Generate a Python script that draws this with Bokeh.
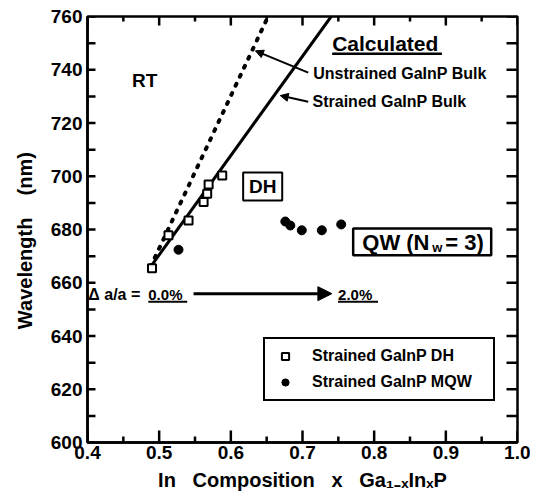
from bokeh.plotting import figure
from bokeh.embed import file_html
from bokeh.resources import INLINE
from bokeh.models import (Label, Arrow, NormalHead, BoxAnnotation,
                          SingleIntervalTicker, NumeralTickFormatter, Range1d,
                          Legend, LegendItem, ColumnDataSource)

# ---------------- data ----------------
# calculated curves (In composition x, wavelength nm)
strained_bulk_x = [0.488, 0.740]
strained_bulk_y = [666.0, 760.0]
unstrained_bulk_x = [0.488, 0.652]
unstrained_bulk_y = [666.0, 760.0]

# measured: strained GaInP DH (open squares)
dh_x = [0.490, 0.513, 0.541, 0.562, 0.567, 0.569, 0.588]
dh_y = [665.4, 677.8, 683.4, 690.3, 693.4, 696.9, 700.3]

# measured: strained GaInP MQW (filled circles)
mqw_x = [0.527, 0.676, 0.683, 0.699, 0.727, 0.754]
mqw_y = [672.4, 683.0, 681.5, 679.7, 679.7, 681.9]

# axis ticks
x_major_ticks = [0.4, 0.5, 0.6, 0.7, 0.8, 0.9, 1.0]
x_minor_ticks = [0.45, 0.55, 0.65, 0.75, 0.85, 0.95]
y_all_ticks = [600, 610, 620, 630, 640, 650, 660, 670, 680, 690, 700,
               710, 720, 730, 740, 750, 760]

X0, X1, Y0, Y1 = 0.4, 1.0, 600.0, 760.0
FONT = "Liberation Sans"
NB = "\u00a0"

p = figure(width=530, height=496, x_range=Range1d(X0, X1), y_range=Range1d(Y0, Y1),
           output_backend="svg", toolbar_location=None,
           min_border_left=87, min_border_right=13, min_border_top=16, min_border_bottom=54)
p.xgrid.visible = False
p.ygrid.visible = False
p.outline_line_color = "black"
p.outline_line_width = 2.5
p.outline_line_alpha = 1.0
p.background_fill_color = "white"
p.border_fill_color = "white"

# pixel -> data conversions for tick lengths (frame 430 x 426 px)
px_x = (X1 - X0) / 430.0
px_y = (Y1 - Y0) / 426.0


def style_axis(ax):
    ax.major_tick_in = 0
    ax.major_tick_out = 0
    ax.minor_tick_in = 0
    ax.minor_tick_out = 0
    ax.axis_line_width = 2.5
    ax.axis_line_color = "black"


# bottom axis
xa = p.xaxis[0]
xa.ticker = SingleIntervalTicker(interval=0.1, num_minor_ticks=2)
xa.formatter = NumeralTickFormatter(format="0.0")
style_axis(xa)
xa.major_label_text_font = FONT
xa.major_label_text_font_style = "bold"
xa.major_label_text_font_size = "19px"
xa.major_label_text_color = "black"
xa.major_label_standoff = 3
xa.axis_label = ("In" + NB * 3 + "Composition" + NB * 3 + "x" + NB * 3 +
                 "Ga\u2081\u208b\u2093In\u2093P")
xa.axis_label_text_font = FONT
xa.axis_label_text_font_style = "bold"
xa.axis_label_text_font_size = "20px"
xa.axis_label_text_color = "black"
xa.axis_label_standoff = 7

# left axis
ya = p.yaxis[0]
ya.ticker = SingleIntervalTicker(interval=20, num_minor_ticks=2)
ya.formatter = NumeralTickFormatter(format="0")
style_axis(ya)
ya.major_label_text_font = FONT
ya.major_label_text_font_style = "bold"
ya.major_label_text_font_size = "19px"
ya.major_label_text_color = "black"
ya.major_label_standoff = 5
ya.axis_label = "Wavelength" + NB * 4 + "(nm)" + NB * 4
ya.axis_label_text_font = FONT
ya.axis_label_text_font_style = "bold"
ya.axis_label_text_font_size = "20px"
ya.axis_label_text_color = "black"
ya.axis_label_standoff = 12

# inward tick marks on all four sides (built from the tick lists), drawn as headless arrows
tx0, ty0, tx1, ty1 = [], [], [], []
for t in x_major_ticks:
    tx0 += [t, t]; tx1 += [t, t]
    ty0 += [Y0, Y1]; ty1 += [Y0 + 12 * px_y, Y1 - 9 * px_y]
for t in x_minor_ticks:
    tx0 += [t, t]; tx1 += [t, t]
    ty0 += [Y0, Y1]; ty1 += [Y0 + 6 * px_y, Y1 - 5 * px_y]
for t in y_all_ticks:
    tx0 += [X0, X1]; tx1 += [X0 + 8 * px_x, X1 - 11 * px_x]
    ty0 += [t, t]; ty1 += [t, t]
tick_src = ColumnDataSource(data=dict(x0=tx0, y0=ty0, x1=tx1, y1=ty1))
p.add_layout(Arrow(end=None, source=tick_src, x_start="x0", y_start="y0",
                   x_end="x1", y_end="y1", line_color="black", line_width=2.5))

# ---------------- glyphs ----------------
p.line(unstrained_bulk_x, unstrained_bulk_y, line_width=4, line_color="black",
       line_dash="2 8", line_cap="round")
p.line(strained_bulk_x, strained_bulk_y, line_width=3, line_color="black")

r_dh = p.scatter(dh_x, dh_y, marker="square", size=8, fill_color="white",
                 line_color="black", line_width=2)
r_mqw = p.scatter(mqw_x, mqw_y, marker="circle", size=9, fill_color="black",
                  line_color="black")

legend = Legend(items=[LegendItem(label="Strained GaInP DH", renderers=[r_dh]),
                       LegendItem(label="Strained GaInP MQW", renderers=[r_mqw])],
                location=(176, 41), padding=8, spacing=8, glyph_width=24, glyph_height=18,
                label_height=18, label_width=173, label_standoff=15,
                label_text_font=FONT, label_text_font_style="bold",
                label_text_font_size="16px", label_text_color="black",
                border_line_color="black", border_line_alpha=1.0,
                border_line_width=2, background_fill_alpha=1.0, margin=0)
p.add_layout(legend, "center")

# ---------------- annotations ----------------
def lab(x, y, text, size, align="left", baseline="middle", xo=0, yo=0):
    p.add_layout(Label(x=x, y=y, text=text, text_font=FONT, text_font_style="bold",
                       text_font_size=size, text_align=align, text_baseline=baseline,
                       text_color="black", x_offset=xo, y_offset=yo))

lab(0.4798, 735.9, "RT", "19px", align="center")
lab(0.7414, 749.8, "Calculated", "21px")
p.add_layout(Arrow(end=None, x_start=0.7414, y_start=746.0, x_end=0.8945, y_end=746.0,
                   line_width=2.5, line_color="black"))
lab(0.715, 738.5, "Unstrained GaInP Bulk", "16px")
lab(0.714, 728.0, "Strained GaInP Bulk", "16px")
p.add_layout(Arrow(end=NormalHead(size=8, fill_color="black", line_color="black"),
                   x_start=0.708, y_start=738.9, x_end=0.6343, y_end=747.1,
                   line_width=2, line_color="black"))
p.add_layout(Arrow(end=NormalHead(size=8, fill_color="black", line_color="black"),
                   x_start=0.708, y_start=728.0, x_end=0.6689, y_end=730.3,
                   line_width=2, line_color="black"))

# DH box
p.add_layout(BoxAnnotation(left=0.6172, right=0.6717, bottom=690.9, top=701.4,
                           fill_alpha=0, line_color="black", line_width=2, line_alpha=1))
lab(0.6445, 696.2, "DH", "19px", align="center")

# QW box
p.add_layout(BoxAnnotation(left=0.7707, right=0.9633, bottom=670.3, top=680.4,
                           fill_alpha=0, line_color="black", line_width=2.5, line_alpha=1))
lab(0.7834, 675.3, "QW (N", "22px")
lab(0.7834, 673.3, "w", "13px", xo=70)
lab(0.7834, 675.3, "= 3)", "22px", xo=83)

# strain arrow
lab(0.4011, 655.4, "\u0394 a/a = ", "16px")
lab(0.4848, 655.4, "0.0%", "15px")
p.add_layout(Arrow(end=None, x_start=0.4848, y_start=652.9, x_end=0.5391, y_end=652.9,
                   line_width=2, line_color="black"))
p.add_layout(Arrow(end=NormalHead(size=14, fill_color="black", line_color="black"),
                   x_start=0.548, y_start=655.9, x_end=0.741, y_end=655.9,
                   line_width=3, line_color="black"))
lab(0.7496, 655.4, "2.0%", "15px")
p.add_layout(Arrow(end=None, x_start=0.7496, y_start=652.9, x_end=0.8054, y_end=652.9,
                   line_width=2, line_color="black"))

open("out.html", "w").write(file_html(p, INLINE))
